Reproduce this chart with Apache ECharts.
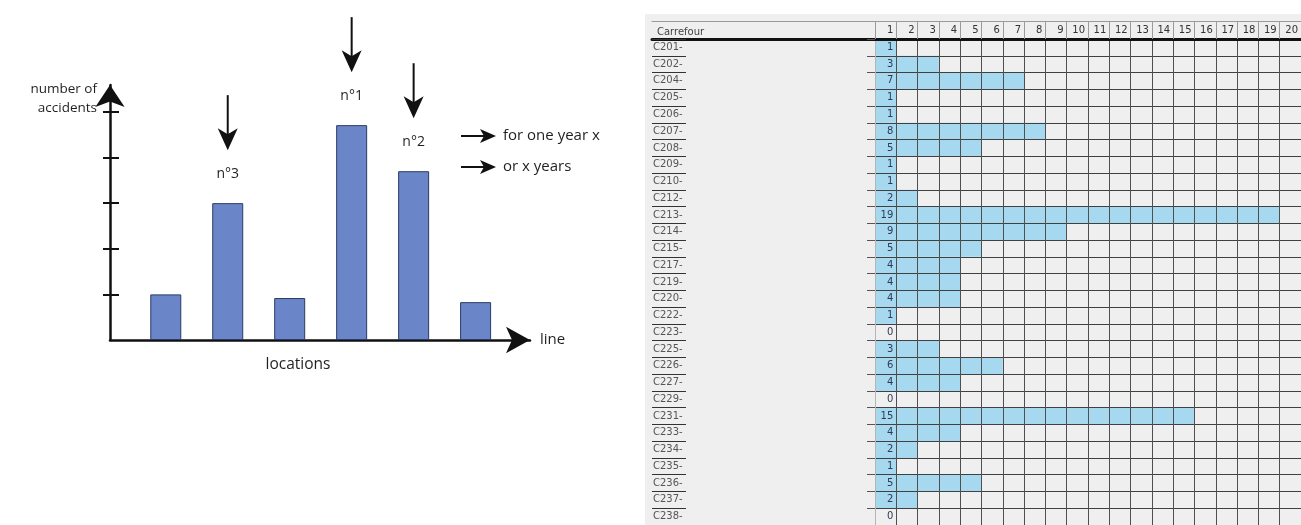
<!DOCTYPE html>
<html>
<head>
<meta charset="utf-8">
<script src="https://cdn.jsdelivr.net/npm/echarts@6/dist/echarts.min.js"></script>
<style>
html,body{margin:0;padding:0;background:#fff;}
#chart{width:1301px;height:525px;}
</style>
</head>
<body>
<div id="chart"></div>
<script>
// ---------- Left schematic: accidents per location ----------
const locationPos = [1, 2, 3, 4, 5, 6];
const accidents = [1.0, 3.0, 0.92, 4.71, 3.7, 0.83];
const ranks = [null, 3, null, 1, 2, null];
const yTicks = [1, 2, 3, 4, 5];
const yAxisName = 'number of\naccidents';
const xAxisName = 'line';
const xAxisTitle = 'locations';
const notes = ['for one year x', 'or x years'];

// ---------- Right table: crossroads (Carrefour) ----------
const tableTitle = 'Carrefour';
const crossroads = ['C201-', 'C202-', 'C204-', 'C205-', 'C206-', 'C207-', 'C208-', 'C209-', 'C210-', 'C212-',
  'C213-', 'C214-', 'C215-', 'C217-', 'C219-', 'C220-', 'C222-', 'C223-', 'C225-', 'C226-',
  'C227-', 'C229-', 'C231-', 'C233-', 'C234-', 'C235-', 'C236-', 'C237-', 'C238-'];
const counts = [1, 3, 7, 1, 1, 8, 5, 1, 1, 2, 19, 9, 5, 4, 4, 4, 1, 0, 3, 6, 4, 0, 15, 4, 2, 1, 5, 2, 0];
const columnMax = 20;

const chart = echarts.init(document.getElementById('chart'));
const txt = '#231f20';
const sans = 'Open Sans';
const tblFont = 'DejaVu Sans';

const barData = locationPos.map((x, i) => [x, accidents[i]]);
const rankData = [];
locationPos.forEach((x, i) => { if (ranks[i] != null) rankData.push([x, accidents[i], ranks[i]]); });
const cellData = counts.map((v, i) => [v, i]);

const option = {
  animation: false,
  backgroundColor: '#ffffff',
  title: {
    text: tableTitle, left: 652, top: 22,
    textStyle: { fontSize: 10, fontWeight: 'normal', color: '#444', fontFamily: tblFont }
  },
  graphic: [
    { type: 'rect', z: -100, silent: true, shape: { x: 645, y: 14, width: 656, height: 511 }, style: { fill: '#efefef' } },
    { type: 'line', shape: { x1: 461, y1: 136, x2: 484, y2: 136 }, style: { stroke: '#111', lineWidth: 2 } },
    { type: 'polygon', shape: { points: [[480, 129], [496, 136], [480, 143], [484, 136]] }, style: { fill: '#111' } },
    { type: 'text', style: { text: notes[0], x: 503, y: 136, verticalAlign: 'middle', font: '15px "Open Sans"', fill: txt } },
    { type: 'line', shape: { x1: 461, y1: 167, x2: 484, y2: 167 }, style: { stroke: '#111', lineWidth: 2 } },
    { type: 'polygon', shape: { points: [[480, 160], [496, 167], [480, 174], [484, 167]] }, style: { fill: '#111' } },
    { type: 'text', style: { text: notes[1], x: 503, y: 167, verticalAlign: 'middle', font: '15px "Open Sans"', fill: txt } }
  ],
  grid: [
    { left: 110, top: 85, width: 420, height: 255 },
    { left: 875, top: 39, width: 432, height: 489 },
    { left: 652, top: 39, width: 223, height: 489 }
  ],
  xAxis: [
    { // 0 left chart
      type: 'value', gridIndex: 0, min: 0.1, max: 6.878,
      name: xAxisName, nameLocation: 'end', nameGap: 10,
      nameTextStyle: { fontSize: 15, color: txt, fontFamily: sans, align: 'left', verticalAlign: 'middle' },
      axisLine: { show: true, onZero: false, symbol: ['none', 'arrow'], symbolSize: [20, 24], lineStyle: { color: '#111', width: 2.5 } },
      axisTick: { show: false }, axisLabel: { show: false }, splitLine: { show: false }
    },
    { // 1 left chart: centred title
      type: 'value', gridIndex: 0, min: 0.1, max: 6.878, position: 'bottom',
      name: xAxisTitle, nameLocation: 'middle', nameGap: 17,
      nameTextStyle: { fontSize: 15.5, color: txt, fontFamily: sans, padding: [0, 44, 0, 0] },
      axisLine: { show: false }, axisTick: { show: false }, axisLabel: { show: false }, splitLine: { show: false }
    },
    { // 2 table columns
      type: 'value', gridIndex: 1, min: 0, max: columnMax, interval: 1, position: 'top', z: 3,
      axisLine: { show: true, lineStyle: { color: '#111', width: 3 } },
      axisTick: { show: true, length: 18, lineStyle: { color: '#9a9a9a' } },
      axisLabel: { show: true, margin: 4, align: 'right', padding: [0, 3, 0, 0], fontSize: 10, color: '#333', fontFamily: tblFont,
        formatter: v => (v === 0 ? '' : String(v)) },
      splitLine: { show: true, lineStyle: { color: '#4f4f4f', width: 1 } }
    },
    { // 3 table top thin line
      type: 'value', gridIndex: 1, min: 0, max: columnMax, position: 'top', offset: 18,
      axisLine: { show: true, lineStyle: { color: '#9a9a9a', width: 1 } },
      axisTick: { show: false }, axisLabel: { show: false }, splitLine: { show: false }
    },
    { // 4 label column thick line
      type: 'value', gridIndex: 2, min: 0, max: 1, position: 'top',
      axisLine: { show: true, lineStyle: { color: '#111', width: 3 } },
      axisTick: { show: false }, axisLabel: { show: false }, splitLine: { show: false }
    },
    { // 5 label column thin top line
      type: 'value', gridIndex: 2, min: 0, max: 1, position: 'top', offset: 18,
      axisLine: { show: true, lineStyle: { color: '#9a9a9a', width: 1 } },
      axisTick: { show: false }, axisLabel: { show: false }, splitLine: { show: false }
    }
  ],
  yAxis: [
    { // 0 left chart main
      type: 'value', gridIndex: 0, min: 0, max: 5.59, position: 'left',
      name: yAxisName, nameLocation: 'end', nameGap: -14,
      nameTextStyle: { fontSize: 13.5, lineHeight: 19, color: txt, fontFamily: sans, align: 'right', verticalAlign: 'middle', padding: [0, 13, 0, 0] },
      axisLine: { show: true, onZero: false, symbol: ['none', 'arrow'], symbolSize: [22, 22], lineStyle: { color: '#111', width: 2.5 } },
      axisTick: { show: true, length: 7, customValues: yTicks, lineStyle: { color: '#111', width: 2 } },
      axisLabel: { show: false }, splitLine: { show: false }
    },
    { // 1 left chart inner ticks
      type: 'value', gridIndex: 0, min: 0, max: 5.59, position: 'left',
      axisLine: { show: false },
      axisTick: { show: true, inside: true, length: 9, customValues: yTicks, lineStyle: { color: '#111', width: 2 } },
      axisLabel: { show: false }, splitLine: { show: false }
    },
    { // 2 table rows
      type: 'category', gridIndex: 1, data: crossroads, inverse: true, z: 3,
      axisLine: { show: true, lineStyle: { color: '#b5b5b5' } },
      axisTick: { show: true, length: 8, interval: 0, lineStyle: { color: '#555' } },
      axisLabel: { show: false },
      splitLine: { show: true, interval: 0, lineStyle: { color: '#404040', width: 1 } }
    },
    { // 3 label column
      type: 'category', gridIndex: 2, data: crossroads, inverse: true,
      axisLine: { show: false },
      axisTick: { show: true, inside: true, length: 34, interval: 0, lineStyle: { color: '#333', width: 1 } },
      axisLabel: { show: true, inside: true, margin: 1, interval: 0, fontSize: 10, color: '#555', fontFamily: tblFont },
      splitLine: { show: false }
    }
  ],
  series: [
    {
      type: 'bar', xAxisIndex: 0, yAxisIndex: 0, data: barData, barWidth: 31,
      itemStyle: { color: '#6a86c8', borderColor: '#2b3a66', borderWidth: 1 }
    },
    {
      type: 'custom', xAxisIndex: 0, yAxisIndex: 0, data: rankData, z: 5,
      renderItem: function (params, api) {
        const p = api.coord([api.value(0), api.value(1)]);
        const x = p[0];
        const top = p[1] - 108, tip = p[1] - 53;
        return {
          type: 'group', children: [
            { type: 'line', shape: { x1: x, y1: top, x2: x, y2: tip - 14 }, style: { stroke: '#111', lineWidth: 2 } },
            { type: 'polygon', shape: { points: [[x - 10, tip - 22], [x, tip - 16], [x + 10, tip - 22], [x, tip]] }, style: { fill: '#111' } },
            { type: 'text', style: { text: 'n°' + api.value(2), x: x, y: p[1] - 29, align: 'center', verticalAlign: 'middle', font: '14px "Open Sans"', fill: txt } }
          ]
        };
      }
    },
    {
      type: 'custom', xAxisIndex: 2, yAxisIndex: 2, data: cellData, z: 1,
      encode: { x: 0, y: 1 },
      renderItem: function (params, api) {
        const v = api.value(0), row = api.value(1);
        const s = api.coord([0, row]);
        const e = api.coord([v, row]);
        const one = api.coord([1, row]);
        const h = api.size([0, 1])[1];
        const children = [];
        if (v > 0) {
          children.push({ type: 'rect', shape: { x: s[0], y: s[1] - h / 2, width: e[0] - s[0], height: h }, style: { fill: '#a6d8ef' } });
        }
        children.push({ type: 'text', z2: 10, style: { text: String(v), x: one[0] - 3, y: s[1], align: 'right', verticalAlign: 'middle', font: '10px "DejaVu Sans"', fill: '#2f3b52' } });
        return { type: 'group', children: children };
      }
    }
  ]
};
chart.setOption(option);
</script>
</body>
</html>
